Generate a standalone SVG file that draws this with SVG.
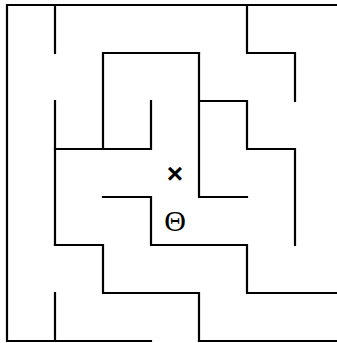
<svg xmlns="http://www.w3.org/2000/svg" width="337" height="343" viewBox="0 0 337 343">
<style>
.w{stroke:#000;stroke-width:2.2;fill:none;stroke-linecap:square}
.t{font-family:"Liberation Serif",serif;font-size:30px;text-anchor:middle;fill:#000}
.x{font-family:"Liberation Sans",sans-serif;font-size:28px;font-weight:bold;text-anchor:middle;fill:#000}
</style>
<rect width="337" height="343" fill="#fff"/>
<g id="walls" class="w">
<path d="M7,5 H340 M7,5 V341 M7,341 H151 M199,341 H340"/>
<path d="M55,5 V53 M55,101 V245 M55,293 V341"/>
<path d="M55,149 H151 M103,53 V149 M103,53 H199 M151,101 V149"/>
<path d="M199,53 V197 H247 M199,101 H247 V149 H295 V245"/>
<path d="M247,5 V53 H295 V101"/>
<path d="M103,197 H151 V245 H247 V293 H340"/>
<path d="M55,245 H103 V293 H199 V341"/>
</g>
<g id="marks">
<text class="x" x="175" y="183">×</text>
<text class="t" x="175" y="231">Θ</text>
</g>
</svg>
